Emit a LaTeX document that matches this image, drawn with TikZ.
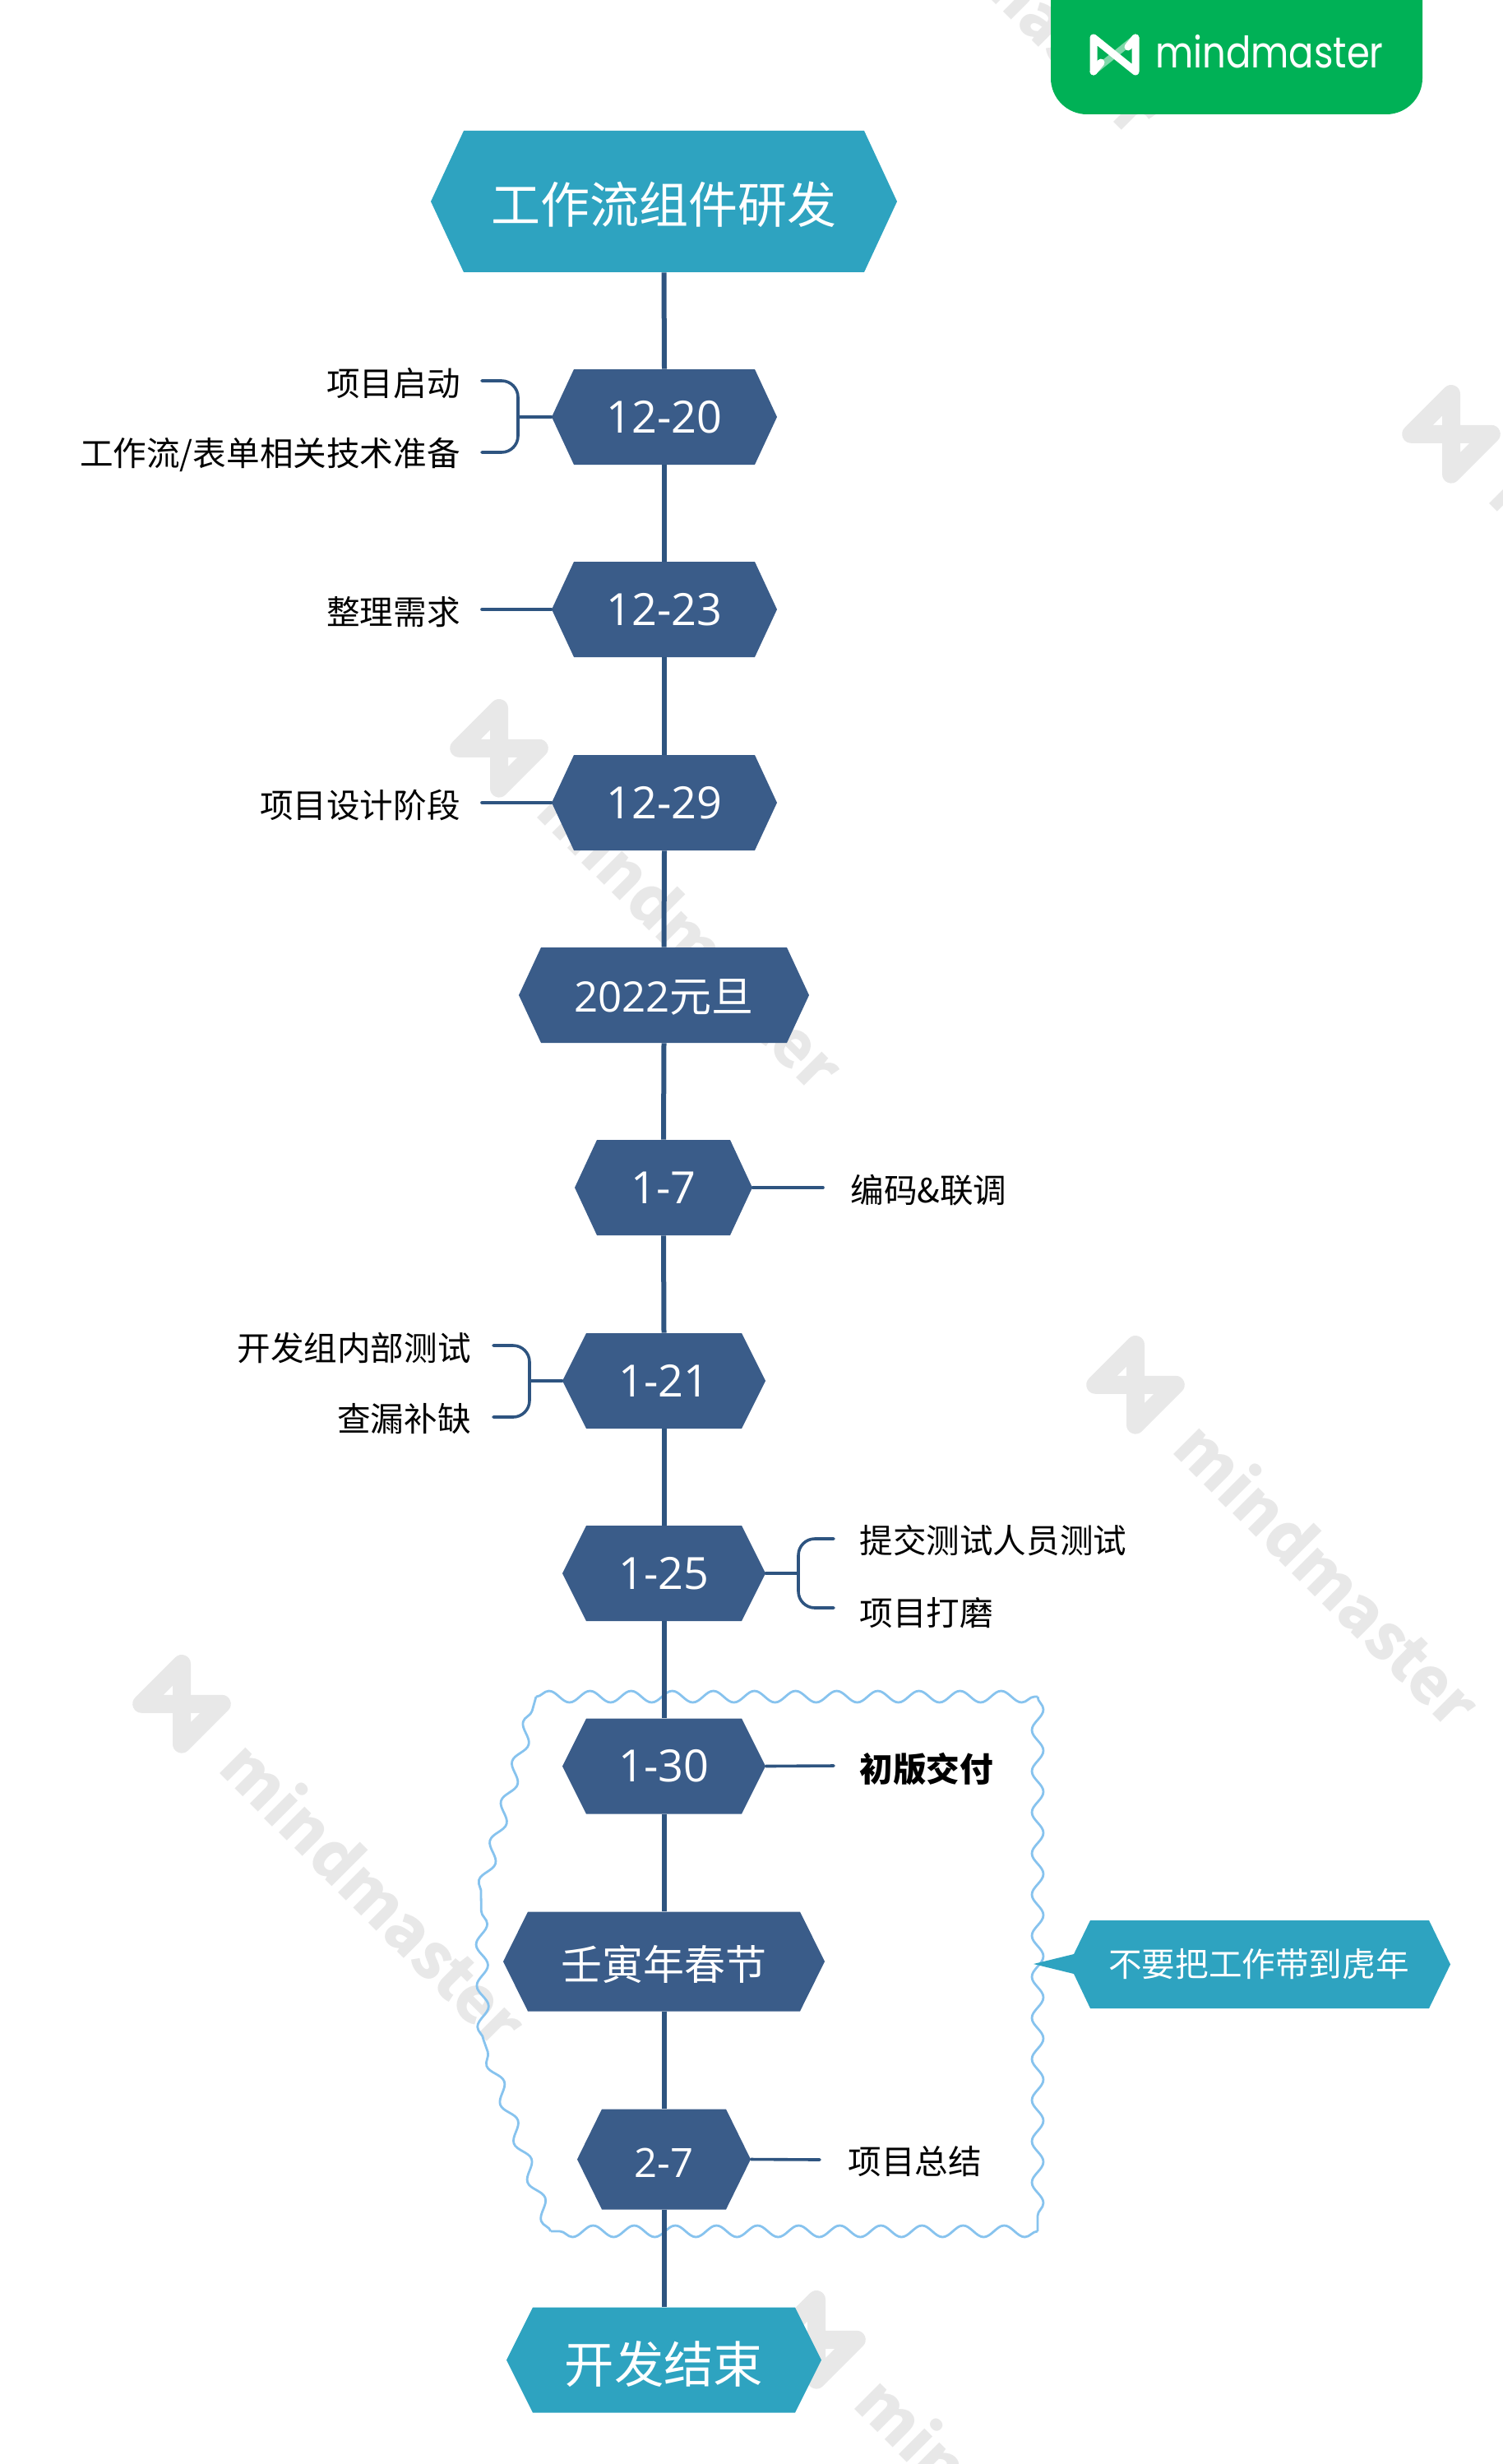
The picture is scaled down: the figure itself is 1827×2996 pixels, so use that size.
\documentclass[tikz,border=0pt]{standalone}
\usepackage{fontspec}
\setmainfont{Noto Sans CJK SC}
\newfontfamily\digitfont{Open Sans}
\newfontfamily\brandfont[FakeStretch=0.85]{Poppins}
\usetikzlibrary{decorations.pathmorphing}

\definecolor{navy}{RGB}{58,92,137}
\definecolor{linenavy}{RGB}{46,84,128}
\definecolor{teal}{RGB}{46,163,192}
\definecolor{brandgreen}{RGB}{0,177,86}
\definecolor{wavecolor}{RGB}{135,195,238}
\definecolor{wmgray}{RGB}{232,232,232}

\newcommand{\wmark}[2]{%
	\begin{scope}[shift={(#1,#2)}, rotate=-45, transform shape]
		\draw [wmgray, line width=11pt, line join=round, line cap=round] (0,69) -- (0,0) -- (69,69) -- (69,0) -- cycle;
		\node [wmgray, anchor=base west, inner sep=0pt, font=\bfseries\fontsize{39}{40}\selectfont] at (121,62) {mindmaster};
	\end{scope}
}

\tikzset{
	hexbox/.style n args={4}{
		minimum width=#2*0.5pt, minimum height=#3*0.5pt, inner sep=0pt,
		text=white, font=\fontsize{25.5}{30}\selectfont,
		path picture={
			\fill [#1] (path picture bounding box.west)
				-- ([xshift=#4*0.5pt]path picture bounding box.north west)
				-- ([xshift=-#4*0.5pt]path picture bounding box.north east)
				-- (path picture bounding box.east)
				-- ([xshift=-#4*0.5pt]path picture bounding box.south east)
				-- ([xshift=#4*0.5pt]path picture bounding box.south west)
				-- cycle;
		}
	},
	textdrop/.style={text height=2*#1, text depth=0pt},
	tasktext/.style={inner sep=0pt, font=\fontsize{20.3}{24}\selectfont},
	spine/.style={draw=linenavy, line width=3pt},
	branch/.style={draw=linenavy, line width=1.8pt, line cap=round, rounded corners=10pt},
	wavy/.style={decorate, decoration={snake, segment length=25pt, amplitude=3.5pt}}
}

\begin{document}
\begin{tikzpicture}[x=0.5pt, y=-0.5pt]
	\useasboundingbox (0,0) rectangle (1827,2996);
	\clip (0,0) rectangle (1827,2996);

	% watermarks
	\wmark{993}{-301}
	\wmark{1765}{479}
	\wmark{607}{861}
	\wmark{1381}{1635}
	\wmark{221}{2023}
	\wmark{993}{2796}

	\draw [wavecolor, line width=1.4pt, line join=round]
		decorate [wavy] {(652,2063) -- (1262,2063)}
		decorate [wavy] {(1262,2063) -- (1262,2713)}
		decorate [wavy] {(1262,2713) -- (670,2713)}
		decorate [wavy] {(670,2713) -- (588,2480)}
		decorate [wavy] {(588,2480) -- (585,2303)}
		decorate [wavy] {(585,2303) -- (652,2063)};

	\node [hexbox={teal}{567}{172}{40}, font=\fontsize{30}{32}\selectfont, textdrop=13.2pt] (start) at (807.5,245) {工作流组件研发};
	\node [hexbox={navy}{274}{116}{27}, font=\digitfont\fontsize{27}{30}\selectfont] (d1220) at (808,507) {12-20};
	\node [hexbox={navy}{274}{116}{27}, font=\digitfont\fontsize{27}{30}\selectfont] (d1223) at (808,741) {12-23};
	\node [hexbox={navy}{274}{116}{27}, font=\digitfont\fontsize{27}{30}\selectfont] (d1229) at (808,976) {12-29};
	\node [hexbox={navy}{353}{116}{27}, textdrop=10pt] (newyear) at (807.5,1210) {{\digitfont 2022}元旦};
	\node [hexbox={navy}{216}{116}{27}, font=\digitfont\fontsize{27}{30}\selectfont] (d0107) at (807,1444) {1-7};
	\node [hexbox={navy}{247}{116}{29}, font=\digitfont\fontsize{27}{30}\selectfont] (d0121) at (807.5,1679) {1-21};
	\node [hexbox={navy}{247}{116}{29}, font=\digitfont\fontsize{27}{30}\selectfont] (d0125) at (807.5,1913) {1-25};
	\node [hexbox={navy}{247}{116}{29}, font=\digitfont\fontsize{27}{30}\selectfont] (d0130) at (807.5,2147.5) {1-30};
	\node [hexbox={navy}{391}{121}{30}, font=\fontsize{25}{28}\selectfont, textdrop=11.35pt] (spring) at (807.5,2385) {壬寅年春节};
	\node [hexbox={navy}{211}{122}{30}, font=\digitfont\fontsize{24.5}{30}\selectfont, textdrop=10.75pt] (d0207) at (807.5,2625.5) {2-7};
	\node [hexbox={teal}{383}{128}{32}, font=\fontsize{30.2}{32}\selectfont, textdrop=14.2pt] (finish) at (807.5,2869.5) {开发结束};

	\draw [spine] (start.south) -- (d1220.north);
	\draw [spine] (d1220.south) -- (d1223.north);
	\draw [spine] (d1223.south) -- (d1229.north);
	\draw [spine] (d1229.south) -- (newyear.north);
	\draw [spine] (newyear.south) -- (d0107.north);
	\draw [spine] (d0107.south) -- (d0121.north);
	\draw [spine] (d0121.south) -- (d0125.north);
	\draw [spine] (d0125.south) -- (d0130.north);
	\draw [spine] (d0130.south) -- (spring.north);
	\draw [spine] (spring.south) -- (d0207.north);
	\draw [spine] (d0207.south) -- (finish.north);

	\coordinate (b1top) at (586,463);
	\coordinate (b1bot) at (586,550);
	\coordinate (b1mid) at (630,507);
	\draw [branch] (b1top) -| (b1mid) |- (b1bot);
	\draw [branch] (b1mid) -- (d1220.west);
	\node [tasktext, anchor=east] (t1) at (560,466) {项目启动};
	\node [tasktext, anchor=east] (t2) at (560,553) {工作流/表单相关技术准备};

	\coordinate (s1223) at (586,741);
	\draw [branch] (s1223) -- (d1223.west);
	\node [tasktext, anchor=east] (t3) at (560,744) {整理需求};

	\coordinate (s1229) at (586,976);
	\draw [branch] (s1229) -- (d1229.west);
	\node [tasktext, anchor=east] (t4) at (560,979) {项目设计阶段};

	\coordinate (s0107) at (1001,1444);
	\draw [branch] (d0107.east) -- (s0107);
	\node [tasktext, anchor=west] (t5) at (1034,1447) {编码\&联调};

	\coordinate (b2top) at (600,1636);
	\coordinate (b2bot) at (600,1723);
	\coordinate (b2mid) at (644,1679);
	\draw [branch] (b2top) -| (b2mid) |- (b2bot);
	\draw [branch] (b2mid) -- (d0121.west);
	\node [tasktext, anchor=east] (t6) at (573,1639) {开发组内部测试};
	\node [tasktext, anchor=east] (t7) at (573,1725) {查漏补缺};

	\coordinate (b3top) at (1014,1871);
	\coordinate (b3bot) at (1014,1955);
	\coordinate (b3mid) at (971,1913);
	\draw [branch] (b3top) -| (b3mid) |- (b3bot);
	\draw [branch] (d0125.east) -- (b3mid);
	\node [tasktext, anchor=west] (t8) at (1045,1873) {提交测试人员测试};
	\node [tasktext, anchor=west] (t9) at (1045,1961) {项目打磨};

	\coordinate (s0130) at (1014,2147);
	\draw [branch] (d0130.east) -- (s0130);
	\node [tasktext, anchor=west, font=\bfseries\fontsize{20.3}{24}\selectfont] (t10) at (1045,2151) {初版交付};

	\coordinate (s0207) at (997,2626);
	\draw [branch] (d0207.east) -- (s0207);
	\node [tasktext, anchor=west] (t11) at (1031,2628) {项目总结};

	\fill [teal] (1326,2335) -- (1738,2335) -- (1764,2388.5) -- (1738,2442) -- (1326,2442) -- (1306,2400) -- (1257,2388) -- (1306,2376) -- cycle;
	\node [tasktext, text=white] (note) at (1531,2388) {不要把工作带到虎年};

	\fill [brandgreen, rounded corners=22pt] (1278,-60) rectangle (1730,139);
	\begin{scope}[shift={(1325,41)}]
		\draw [white, opacity=0.5, line width=4pt] (5,46) -- (56,5);
		\draw [white, line width=4.5pt, line join=round, line cap=round] (5,46) -- (5,5) -- (56,46) -- (56,5);
		\draw [white, line width=4.5pt, line cap=round] (5,46) -- (14,35);
		\draw [white, line width=4.5pt, line cap=round] (56,5) -- (47,16);
		\node [white, anchor=base west, inner sep=0pt, font=\brandfont\fontsize{26.4}{27}\selectfont] (brand) at (80,42) {mindmaster};
	\end{scope}
\end{tikzpicture}
\end{document}
